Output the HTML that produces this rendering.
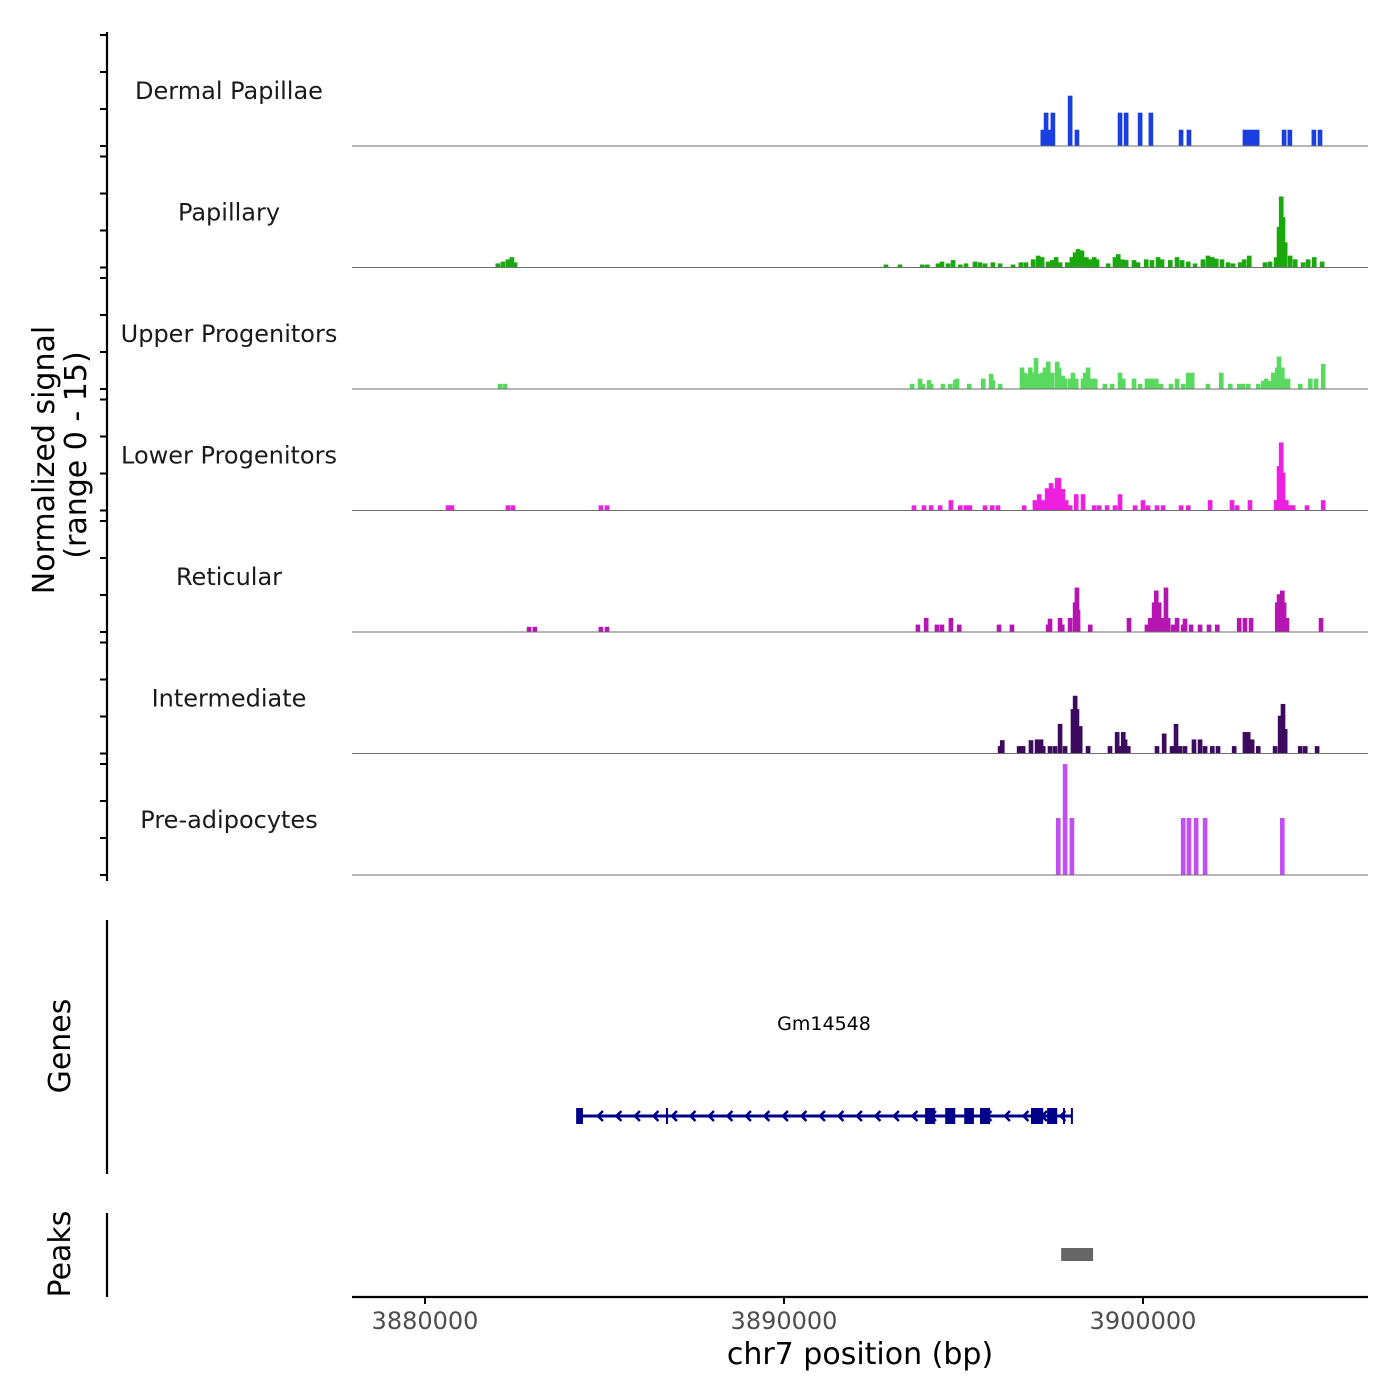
<!DOCTYPE html>
<html><head><meta charset="utf-8">
<style>
html,body{margin:0;padding:0;background:#fff;}
svg{display:block;font-family:"DejaVu Sans","Liberation Sans",sans-serif;}
</style></head>
<body>
<svg id="chart" width="1400" height="1400" viewBox="0 0 1400 1400" xmlns="http://www.w3.org/2000/svg">
  <g id="yaxes">
    <line x1="107" y1="32" x2="107" y2="881" stroke="#000" stroke-width="2.2"/>
    <line x1="107" y1="920" x2="107" y2="1174" stroke="#000" stroke-width="2.2"/>
    <line x1="107" y1="1213" x2="107" y2="1297" stroke="#000" stroke-width="2.2"/>
  </g>
  <text transform="translate(54,460) rotate(-90)" text-anchor="middle" font-size="30" fill="#000">Normalized signal</text>
  <text transform="translate(86,455) rotate(-90)" text-anchor="middle" font-size="30" fill="#000">(range 0 - 15)</text>
  <text transform="translate(70,1046) rotate(-90)" text-anchor="middle" font-size="30" fill="#000">Genes</text>
  <text transform="translate(70,1254) rotate(-90)" text-anchor="middle" font-size="30" fill="#000">Peaks</text>
  <g id="tracks"></g>
  <g id="gene"></g>
  <text x="824" y="1030" text-anchor="middle" font-size="19" fill="#000">Gm14548</text>
  <g id="peaks"></g>
  <g id="xaxis">
    <line x1="352" y1="1297" x2="1368" y2="1297" stroke="#000" stroke-width="2.2"/>
  </g>
  <text x="860" y="1364" text-anchor="middle" font-size="30" fill="#000">chr7 position (bp)</text>
</svg>
<script>
// positions in kb relative to 3,880,000 bp; values in normalized signal
const trackNames = ["Dermal Papillae","Papillary","Upper Progenitors","Lower Progenitors","Reticular","Intermediate","Pre-adipocytes"];
const trackColors = ["#1a3fe0","#19a80d","#5ad960","#ee20e0","#b515b0","#3d0b5e","#c050f2"];
const dermalPos = [17.21,17.30,17.41,17.49,17.97,18.16,19.36,19.53,19.92,20.22,21.06,21.28,22.84,22.95,23.06,23.18,23.93,24.09,24.76,24.93];
const dermalVal = [2.2,4.5,2.2,4.5,6.8,2.2,4.5,4.5,4.5,4.5,2.2,2.2,2.2,2.2,2.2,2.2,2.2,2.2,2.2,2.2];
const papillaryPos = [2.03,2.17,2.31,2.42,2.51,12.84,13.23,13.85,13.99,14.29,14.40,14.57,14.71,14.91,15.07,15.32,15.46,15.60,15.82,16.02,16.38,16.60,16.74,16.94,17.08,17.19,17.36,17.47,17.58,17.69,17.89,18.02,18.11,18.19,18.30,18.42,18.53,18.64,18.72,19.03,19.22,19.31,19.42,19.53,19.75,19.86,20.09,20.25,20.42,20.53,20.76,20.95,21.09,21.26,21.45,21.67,21.81,21.93,22.04,22.20,22.37,22.51,22.71,22.82,22.96,23.40,23.54,23.71,23.79,23.85,23.90,23.96,24.10,24.24,24.46,24.60,24.77,24.99];
const papillaryVal = [0.55,0.8,1.1,1.4,0.7,0.4,0.4,0.4,0.4,0.55,0.8,0.55,1.0,0.4,0.55,0.8,0.7,0.55,0.7,0.55,0.4,0.7,0.7,1.1,1.6,1.4,0.8,1.0,1.4,0.7,0.7,1.4,2.05,2.5,2.3,1.4,1.1,1.4,1.1,0.55,1.4,1.8,1.1,1.0,1.0,0.7,1.1,1.0,1.4,1.1,1.0,1.4,1.0,0.8,0.55,1.1,1.6,1.4,1.2,1.1,0.7,0.55,0.7,1.1,1.6,0.7,0.8,1.4,5.5,9.6,6.8,3.4,1.6,1.1,0.7,1.1,1.4,0.8];
const upperPos = [2.09,2.23,13.57,13.79,13.87,14.04,14.10,14.43,14.63,14.77,14.82,15.16,15.55,15.77,15.82,16.02,16.63,16.69,16.77,16.86,16.94,17.02,17.08,17.19,17.27,17.36,17.47,17.61,17.66,17.77,17.83,17.97,18.05,18.14,18.33,18.39,18.47,18.55,18.67,18.94,19.14,19.36,19.45,19.75,19.92,20.11,20.17,20.28,20.37,20.50,20.78,20.95,21.12,21.26,21.37,21.81,22.18,22.43,22.68,22.79,22.93,23.21,23.35,23.43,23.54,23.63,23.74,23.79,23.88,23.96,24.04,24.38,24.66,24.82,25.02];
const upperVal = [0.7,0.7,0.7,1.4,0.7,1.2,0.7,0.7,0.7,1.2,1.4,0.7,1.4,2.05,1.2,0.7,2.9,2.2,2.05,2.9,2.2,4.2,2.05,2.2,2.9,3.7,2.2,3.7,2.9,1.8,1.4,1.4,2.2,1.4,1.4,2.2,2.9,1.4,1.4,0.7,0.7,2.2,1.4,1.4,0.7,1.4,1.4,1.4,1.4,0.7,0.7,1.4,0.7,2.2,2.2,0.7,2.2,0.7,0.7,0.7,0.7,0.7,1.1,1.4,1.1,2.2,2.9,4.4,2.9,1.4,1.4,0.7,1.4,1.4,3.4];
const lowerPos = [0.64,0.75,2.31,2.45,4.90,5.07,13.62,13.90,14.10,14.35,14.65,14.91,15.07,15.18,15.60,15.80,15.96,16.69,16.99,17.11,17.22,17.33,17.44,17.52,17.61,17.66,17.77,17.86,17.97,18.14,18.33,18.64,18.78,19.00,19.22,19.36,19.78,20.00,20.14,20.39,20.56,21.06,21.26,21.87,22.48,22.62,22.98,23.71,23.79,23.85,23.90,23.99,24.10,24.18,24.57,25.02];
const lowerVal = [0.7,0.7,0.7,0.7,0.7,0.7,0.7,0.7,0.7,0.7,1.4,0.7,0.7,0.7,0.7,0.7,0.7,0.7,1.4,2.2,1.4,3.0,3.7,3.0,4.4,4.4,2.9,1.4,0.7,2.2,2.2,0.7,0.7,0.7,0.7,2.2,0.7,1.4,0.7,0.7,0.7,0.7,0.7,1.4,1.4,0.7,1.4,1.4,6.0,9.2,5.1,1.4,0.7,0.7,0.7,1.4];
const reticularPos = [2.90,3.06,4.90,5.07,13.73,13.96,14.26,14.40,14.65,14.88,15.99,16.35,17.36,17.41,17.69,17.75,17.97,18.11,18.16,18.19,18.53,19.61,20.11,20.20,20.31,20.37,20.45,20.56,20.64,20.70,20.84,20.95,21.12,21.17,21.34,21.59,21.84,22.07,22.68,22.84,23.01,23.74,23.79,23.88,23.93,24.01,24.96];
const reticularVal = [0.7,0.7,0.7,0.7,1.0,1.9,1.0,1.0,1.9,1.0,1.0,1.0,1.0,1.8,1.9,1.0,1.9,4.0,6.0,3.0,1.0,1.9,1.0,1.9,4.0,5.6,4.0,1.9,6.0,1.9,1.0,1.9,1.0,1.8,1.0,1.0,1.0,1.0,1.9,1.9,1.9,4.0,5.1,5.6,4.0,1.9,1.9];
const intermediatePos = [16.02,16.08,16.55,16.66,16.88,17.05,17.16,17.22,17.41,17.55,17.69,17.83,18.05,18.11,18.16,18.25,18.47,19.08,19.28,19.36,19.45,19.50,19.59,20.39,20.59,20.81,20.92,21.03,21.17,21.42,21.59,21.73,21.93,22.09,22.54,22.84,22.93,23.04,23.21,23.68,23.82,23.90,23.96,24.38,24.52,24.85];
const intermediateVal = [1.0,1.8,1.0,1.0,1.8,1.9,1.9,1.0,1.0,1.0,4.0,1.0,6.0,7.8,6.0,3.7,1.0,1.0,2.9,1.0,2.9,1.9,1.0,1.0,2.7,1.0,4.0,1.0,1.0,1.9,1.9,1.0,1.0,1.0,1.0,2.9,2.9,1.9,1.0,1.0,5.1,6.7,3.3,1.0,1.0,1.0];
const preadipoPos = [17.64,17.83,18.02,21.12,21.28,21.48,21.73,23.88];
const preadipoVal = [7.7,15,7.7,7.7,7.7,7.7,7.7,7.7];
const trackPos = [dermalPos,papillaryPos,upperPos,lowerPos,reticularPos,intermediatePos,preadipoPos];
const trackVal = [dermalVal,papillaryVal,upperVal,lowerVal,reticularVal,intermediateVal,preadipoVal];
const xTickValues = [3880000,3890000,3900000];
const xTickLabels = ["3880000","3890000","3900000"];
const yTickValues = [0,5,10,15];
const geneStart = 4.26, geneEnd = 18.02;
const geneExonStarts = [4.21,13.93,14.49,15.02,15.46,16.88,17.33];
const geneExonEnds = [4.40,14.21,14.77,15.29,15.74,17.22,17.61];
const geneMarks = [6.74,17.80,18.02];
const peakStarts = [17.72];
const peakEnds = [18.61];

const NS="http://www.w3.org/2000/svg";
const X0=425, PXKB=35.9, BIN=0.13;
function xKb(kb){return X0+kb*PXKB;}
function xBp(bp){return X0+(bp-3880000)/1000*PXKB;}
const BASE0=146, STEP=121.5, PXU=7.4;
function yVal(i,v){return BASE0+i*STEP - v*PXU;}
function mk(tag,attrs,parent){const e=document.createElementNS(NS,tag);for(const k in attrs)e.setAttribute(k,attrs[k]);parent.appendChild(e);return e;}

const yax=document.getElementById('yaxes');
const tracks=document.getElementById('tracks');
trackNames.forEach((name,i)=>{
  yTickValues.forEach(v=>{
    const t=mk('line',{x1:100,x2:107,y1:yVal(i,v),y2:yVal(i,v),stroke:'#000','stroke-width':2},yax);
    
    
  });
  const g=mk('g',{},tracks);
  
  
  const lbl=mk('text',{x:229,y:BASE0+i*STEP-47,'text-anchor':'middle','font-size':24,fill:'#1a1a1a'},g);
  lbl.textContent=name;
  
  
  const pos=trackPos[i], val=trackVal[i];
  for(let j=0;j<pos.length;j++){
    const x=xKb(pos[j])-BIN*PXKB/2, y=yVal(i,val[j]);
    const r=mk('rect',{x:x,y:y,width:BIN*PXKB,height:yVal(i,0)-y,fill:trackColors[i]},g);
    
    
  }
  const bl=mk('line',{x1:352,x2:1368,y1:yVal(i,0),y2:yVal(i,0),stroke:'#6e6e6e','stroke-width':1.1},g);
  
  
});

// gene
const gg=document.getElementById('gene');
const GY=1116, GC='#000088';
const gl=mk('line',{x1:xKb(geneStart),x2:xKb(geneEnd),y1:GY,y2:GY,stroke:GC,'stroke-width':3},gg);


for(let a=xKb(geneStart)+20;a<xKb(geneEnd)-8;a+=18.5){
  const ar=mk('polyline',{points:(a+5)+','+(GY-5)+' '+a+','+GY+' '+(a+5)+','+(GY+5),fill:'none',stroke:GC,'stroke-width':2.5},gg);
  
  
}
for(let j=0;j<geneExonStarts.length;j++){
  const r=mk('rect',{x:xKb(geneExonStarts[j]),y:GY-8,width:xKb(geneExonEnds[j])-xKb(geneExonStarts[j]),height:16,fill:GC},gg);
  
  
}
geneMarks.forEach(m=>{
  const l=mk('line',{x1:xKb(m),x2:xKb(m),y1:GY-8,y2:GY+8,stroke:GC,'stroke-width':2},gg);
  
  
});

// peaks
const pg=document.getElementById('peaks');
for(let j=0;j<peakStarts.length;j++){
  const r=mk('rect',{x:xKb(peakStarts[j]),y:1248,width:xKb(peakEnds[j])-xKb(peakStarts[j]),height:13,fill:'#666'},pg);
  
  
}

// x axis
const xa=document.getElementById('xaxis');
xTickValues.forEach((v,i)=>{
  const t=mk('line',{x1:xBp(v),x2:xBp(v),y1:1297,y2:1304,stroke:'#000','stroke-width':2},xa);
  
  
  const tx=mk('text',{x:xBp(v),y:1329,'text-anchor':'middle','font-size':24,fill:'#4d4d4d'},xa);
  tx.textContent=xTickLabels[i];
  
  
});
</script>
</body></html>
